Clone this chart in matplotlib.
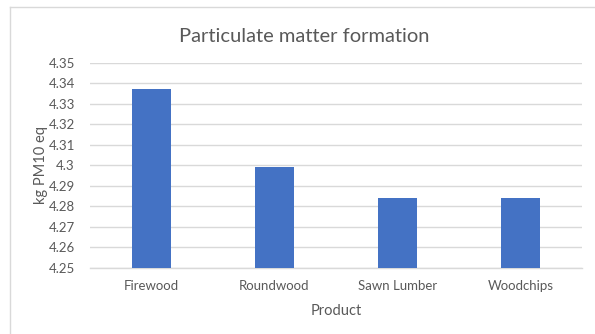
import matplotlib.pyplot as plt
from matplotlib.lines import Line2D

products = ["Firewood", "Roundwood", "Sawn Lumber", "Woodchips"]
pm10_values = [4.337, 4.299, 4.284, 4.284]
y_ticks = [4.25, 4.26, 4.27, 4.28, 4.29, 4.30, 4.31, 4.32, 4.33, 4.34, 4.35]
y_tick_labels = ["4.25", "4.26", "4.27", "4.28", "4.29", "4.3", "4.31", "4.32", "4.33", "4.34", "4.35"]

plt.rcParams['font.family'] = ['Lato', 'DejaVu Sans']
text_color = "#595959"
grid_color = "#d9d9d9"

W, H = 595, 334
fig = plt.figure(figsize=(W / 100, H / 100), dpi=100)
ax = fig.add_axes([90 / W, 1 - 268 / H, (582 - 90) / W, (268 - 62.7) / H])

x = range(len(products))
ax.bar(x, [v - y_ticks[0] for v in pm10_values], bottom=y_ticks[0], width=0.31,
       color="#4472C4", zorder=3)

ax.set_xlim(-0.5, len(products) - 0.5)
ax.set_ylim(y_ticks[0], y_ticks[-1])
ax.set_yticks(y_ticks)
ax.set_yticklabels(y_tick_labels)
ax.set_xticks(list(x))
ax.set_xticklabels(products)

ax.yaxis.grid(True, color=grid_color, linewidth=1, zorder=0)
ax.tick_params(axis='both', length=0, labelsize=9.5, labelcolor=text_color)
ax.tick_params(axis='y', pad=11)
ax.tick_params(axis='x', pad=9)
for side in ("top", "right", "left"):
    ax.spines[side].set_visible(False)
ax.spines["bottom"].set_color(grid_color)
ax.spines["bottom"].set_linewidth(1)

ax.set_ylabel("kg PM10 eq", fontsize=10.5, color=text_color, labelpad=0)
ax.set_xlabel("Product", fontsize=10.5, color=text_color, labelpad=8)

fig.text(304 / W, 1 - 36 / H, "Particulate matter formation",
         ha="center", va="center", fontsize=14.5, color=text_color)

# chart area frame
fig.add_artist(Line2D([10 / W, 10 / W], [0, 1 - 6.5 / H], color=grid_color,
                      linewidth=1, transform=fig.transFigure))
fig.add_artist(Line2D([10 / W, 1], [1 - 6.5 / H, 1 - 6.5 / H], color=grid_color,
                      linewidth=1, transform=fig.transFigure))

fig.savefig("out.png", dpi=100)
